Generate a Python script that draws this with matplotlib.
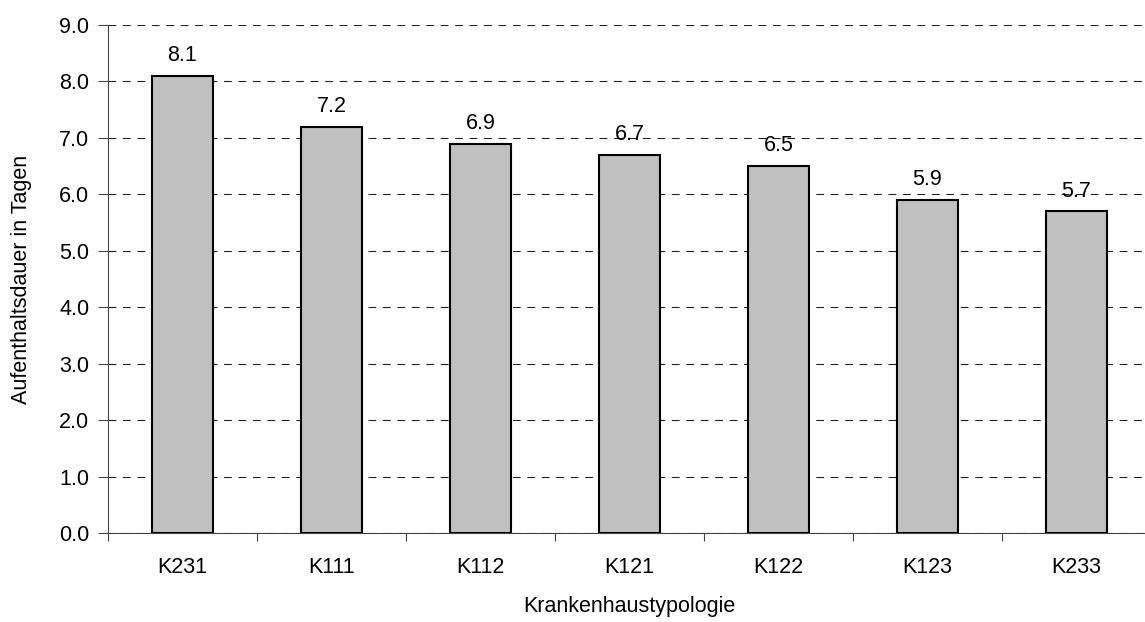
import matplotlib.pyplot as plt
import numpy as np

# Verweildauer je Krankenhaustyp
categories = ["K231", "K111", "K112", "K121", "K122", "K123", "K233"]
values = [8.1, 7.2, 6.9, 6.7, 6.5, 5.9, 5.7]
y_ticks = [0.0, 1.0, 2.0, 3.0, 4.0, 5.0, 6.0, 7.0, 8.0, 9.0]

plt.rcParams['font.family'] = ['Liberation Sans', 'DejaVu Sans']
FS = 15.5

fig = plt.figure(figsize=(11.45, 6.22), dpi=100)
ax = fig.add_axes([108 / 1145, 89 / 622, 1043 / 1145, 508 / 622])

x = np.arange(len(categories))
ax.bar(x, values, width=0.41, color="#C0C0C0", edgecolor="black",
       linewidth=1.5, zorder=3)

for xi, v in zip(x, values):
    ax.annotate(f"{v:.1f}", (xi, v), xytext=(0, 7), textcoords="offset points",
                ha="center", va="bottom", fontsize=FS, zorder=4)

ax.set_xlim(-0.5, len(categories) - 0.5)
ax.set_ylim(0, 9)
ax.set_yticks(y_ticks)
ax.set_yticklabels([f"{t:.1f}" for t in y_ticks])
ax.yaxis.grid(True, linestyle=(0, (7, 6)), color="#222222", linewidth=0.8, zorder=0)

ax.set_xticks(x)
ax.set_xticklabels(categories)
ax.set_xticks(np.arange(len(categories) + 1) - 0.5, minor=True)
ax.tick_params(axis="x", which="major", length=0, pad=17, labelsize=FS)
ax.tick_params(axis="x", which="minor", length=6, width=0.8, color="#444444")
ax.tick_params(axis="y", length=7.5, width=0.8, pad=6, labelsize=FS, color="#444444")

for s in ["top", "right"]:
    ax.spines[s].set_visible(False)
for s in ["left", "bottom"]:
    ax.spines[s].set_color("#444444")
    ax.spines[s].set_linewidth(0.8)

ax.set_ylabel("Aufenthaltsdauer in Tagen", fontsize=FS)
ax.yaxis.set_label_coords(-76 / 1043, 0.5)
ax.set_xlabel("Krankenhaustypologie", fontsize=FS)
ax.xaxis.set_label_coords(0.5, -63 / 508)

fig.savefig("out.png", dpi=100)
